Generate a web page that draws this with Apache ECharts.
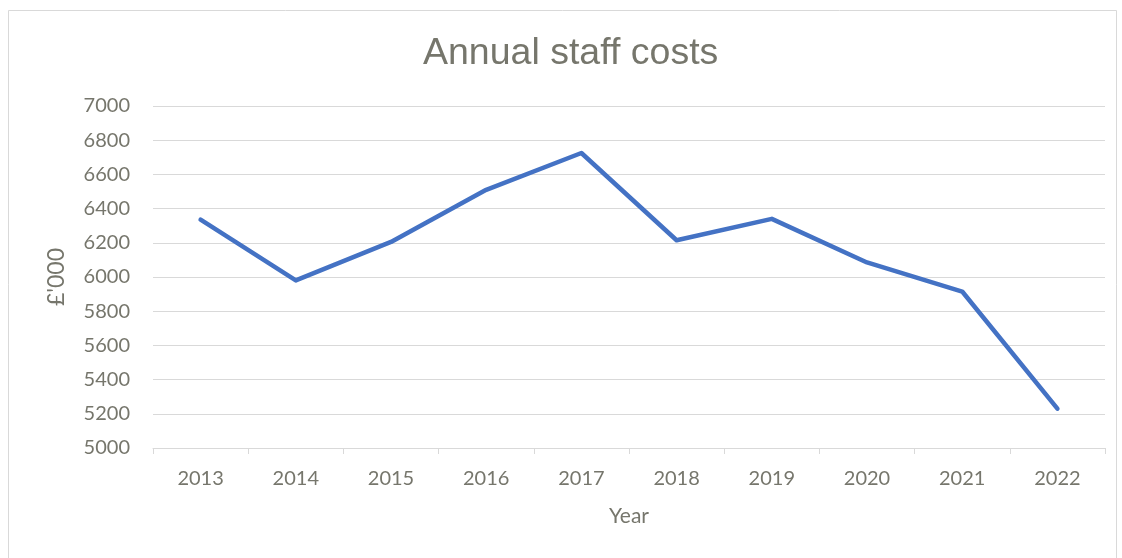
<!DOCTYPE html>
<html>
<head>
<meta charset="utf-8">
<title>Annual staff costs</title>
<script src="https://cdn.jsdelivr.net/npm/echarts@6/dist/echarts.min.js"></script>
<style>
  html, body { margin: 0; padding: 0; background: #fff; }
  #chart { width: 1122px; height: 558px; }
</style>
</head>
<body>
<div id="chart"></div>
<script>
// Staff costs by year, in thousands of pounds
const years = ['2013', '2014', '2015', '2016', '2017', '2018', '2019', '2020', '2021', '2022'];
const staffCosts = [6335, 5980, 6205, 6510, 6725, 6215, 6340, 6085, 5915, 5230];
const yMin = 5000;
const yMax = 7000;
const yStep = 200;

const textColor = '#76766c';
const gridColor = '#d9d9d9';
const fontFamily = 'Lato, "Open Sans", sans-serif';
const titleFont = '"Liberation Sans", Arial, sans-serif';

const chart = echarts.init(document.getElementById('chart'), null, { renderer: 'canvas' });

chart.setOption({
  backgroundColor: '#ffffff',
  animation: false,
  textStyle: { fontFamily: fontFamily },
  graphic: [{
    type: 'rect',
    shape: { x: 8.5, y: 10.5, width: 1108, height: 570 },
    style: { fill: 'none', stroke: gridColor, lineWidth: 1 },
    silent: true
  }],
  title: {
    text: 'Annual staff costs',
    left: 423,
    top: 35,
    padding: 0,
    textStyle: { color: textColor, fontSize: 37.5, fontWeight: 'normal', fontFamily: titleFont }
  },
  grid: { left: 153, right: 17, top: 106, bottom: 110 },
  xAxis: {
    type: 'category',
    data: years,
    boundaryGap: true,
    name: 'Year',
    nameLocation: 'middle',
    nameGap: 58,
    nameTextStyle: { color: textColor, fontSize: 21, fontFamily: fontFamily },
    axisLine: { show: true, lineStyle: { color: gridColor, width: 1 } },
    axisTick: { show: true, alignWithLabel: false, length: 6, lineStyle: { color: gridColor } },
    axisLabel: { color: textColor, fontSize: 20, margin: 21, fontFamily: fontFamily },
    splitLine: { show: false }
  },
  yAxis: {
    type: 'value',
    min: yMin,
    max: yMax,
    interval: yStep,
    name: "£'000",
    nameLocation: 'middle',
    nameGap: 85,
    nameRotate: 90,
    nameTextStyle: { color: textColor, fontSize: 23, fontFamily: fontFamily },
    axisLine: { show: false },
    axisTick: { show: false },
    axisLabel: {
      color: textColor,
      fontSize: 20,
      margin: 23,
      fontFamily: fontFamily,
      formatter: function (v) { return String(v); }
    },
    splitLine: { show: true, lineStyle: { color: gridColor, width: 1 } }
  },
  series: [{
    type: 'line',
    data: staffCosts,
    symbol: 'none',
    lineStyle: { color: '#4472c4', width: 4.5, cap: 'round', join: 'round' },
    itemStyle: { color: '#4472c4' }
  }]
});
</script>
</body>
</html>
